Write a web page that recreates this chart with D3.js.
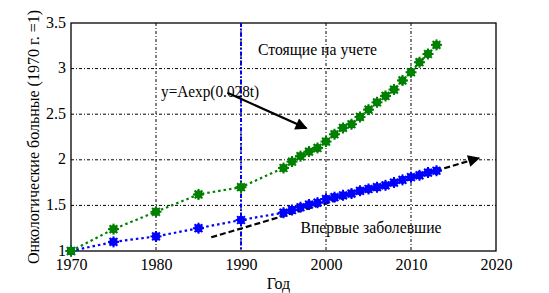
<!DOCTYPE html>
<html><head><meta charset="utf-8">
<script src="https://cdn.jsdelivr.net/npm/d3@7"></script>
<style>
html,body{margin:0;padding:0;background:#fff;}
</style></head>
<body><svg id="c" width="549" height="293"></svg>
<script>
const years = [1970,1975,1980,1985,1990,1995,1996,1997,1998,1999,2000,2001,2002,2003,2004,2005,2006,2007,2008,2009,2010,2011,2012,2013];
const registered = [1.00,1.24,1.43,1.62,1.70,1.91,1.98,2.04,2.09,2.13,2.20,2.28,2.35,2.39,2.47,2.55,2.63,2.70,2.77,2.87,2.96,3.07,3.16,3.26];
const newCases = [1.00,1.10,1.16,1.25,1.34,1.42,1.45,1.48,1.51,1.53,1.57,1.59,1.61,1.63,1.66,1.68,1.70,1.72,1.75,1.78,1.81,1.83,1.86,1.88];
const trendYears = [1986.5, 2018];
const trendValues = [1.15, 2.02];
const xTicks = [1970,1980,1990,2000,2010,2020];
const yTicks = [1,1.5,2,2.5,3,3.5];
const markerYear = 1990;
const labels = {
  registered: "Стоящие на учете",
  newCases: "Впервые заболевшие",
  formula: "y=Aexp(0.028t)",
  xTitle: "Год",
  yTitle: "Онкологические больные (1970 г. =1)"
};

const FONT = "'Liberation Serif','Times New Roman','DejaVu Serif',serif";
const svg = d3.select("#c");
const L=71,R=496,T=23,B=251;
const x = d3.scaleLinear().domain([1970,2020]).range([L,R]);
const y = d3.scaleLinear().domain([1,3.5]).range([B,T]);

const defs = svg.append("defs");
defs.append("marker").attr("id","ah").attr("viewBox","0 0 10 10").attr("refX",9).attr("refY",5)
  .attr("markerWidth",16).attr("markerHeight",12).attr("markerUnits","userSpaceOnUse").attr("orient","auto")
  .append("path").attr("d","M0,0 L10,5 L0,10 Z").attr("fill","#000");

// grid
const grid = svg.append("g");
xTicks.slice(1,-1).forEach(t=>grid.append("line").attr("x1",x(t)).attr("x2",x(t)).attr("y1",T).attr("y2",B)
  .attr("stroke","#000").attr("stroke-width",1).attr("stroke-dasharray","3,2,1,2"));
yTicks.slice(1,-1).forEach(t=>grid.append("line").attr("x1",L).attr("x2",R).attr("y1",y(t)).attr("y2",y(t))
  .attr("stroke","#000").attr("stroke-width",1).attr("stroke-dasharray","3,2,1,2"));

// axes
const xa = svg.append("g").attr("transform",`translate(0,${B})`)
  .call(d3.axisBottom(x).tickValues(xTicks).tickFormat(d3.format("d")).tickSize(0).tickPadding(9));
const ya = svg.append("g").attr("transform",`translate(${L},0)`)
  .call(d3.axisLeft(y).tickValues(yTicks).tickFormat(d=>String(d)).tickSize(0).tickPadding(5));
[xa,ya].forEach(a=>{a.select(".domain").remove(); a.attr("font-family",null).attr("font-size",null);
  a.selectAll("text").style("font-family",FONT).style("font-size","16px").attr("fill","#000");});
xa.selectAll("text").attr("dy","0.62em");
ya.selectAll("text").attr("dy","0.25em");
svg.append("rect").attr("x",L).attr("y",T).attr("width",R-L).attr("height",B-T)
  .attr("fill","none").attr("stroke","#000").attr("stroke-width",1.3);

// vertical blue line at 1990
svg.append("line").attr("x1",x(markerYear)).attr("x2",x(markerYear)).attr("y1",T).attr("y2",B)
  .attr("stroke","#0000ff").attr("stroke-width",2).attr("stroke-dasharray","4,2,1.5,2");

// trend dashed black
svg.append("line").attr("x1",x(trendYears[0])).attr("y1",y(trendValues[0]))
  .attr("x2",x(trendYears[1])).attr("y2",y(trendValues[1]))
  .attr("stroke","#000").attr("stroke-width",2.2).attr("stroke-dasharray","6,3").attr("marker-end","url(#ah)");

function series(vals,color){
  const line = d3.line().x((d,i)=>x(years[i])).y(d=>y(d));
  svg.append("path").datum(vals).attr("d",line).attr("fill","none").attr("stroke",color)
    .attr("stroke-width",2.2).attr("stroke-dasharray","2.5,3");
  const g = svg.append("g").selectAll("g").data(vals).join("g")
    .attr("transform",(d,i)=>`translate(${x(years[i])},${y(d)})`);
  g.append("circle").attr("r",4.2).attr("fill",color);
  [0,45,90,135].forEach(a=>{
    g.append("line").attr("x1",-5.5).attr("x2",5.5).attr("y1",0).attr("y2",0)
      .attr("transform",`rotate(${a})`).attr("stroke",color).attr("stroke-width",2);
  });
}
series(newCases,"#0000ff");
series(registered,"#008000");

function txt(xx,yy,s,len){
  const t = svg.append("text").attr("x",xx).attr("y",yy).style("font-family",FONT).style("font-size","16px").attr("fill","#000").text(s);
  if(len) t.attr("textLength",len).attr("lengthAdjust","spacingAndGlyphs");
  return t;
}
// annotations
txt(x(1980.6),y(2.69),labels.formula,98);
svg.append("line").attr("x1",x(1988.4)).attr("y1",y(2.735)).attr("x2",x(1997.7)).attr("y2",y(2.345))
  .attr("stroke","#000").attr("stroke-width",2.2).attr("marker-end","url(#ah)");
txt(x(1992.0),y(3.15),labels.registered,119);
txt(x(1997.0),y(1.2),labels.newCases,141);

txt((L+R)/2 - 5,289,labels.xTitle).attr("text-anchor","middle");
txt(0,0,labels.yTitle).attr("x",null).attr("y",null)
  .attr("transform",`translate(39,${(T+B)/2}) rotate(-90)`).attr("text-anchor","middle");
</script></body></html>
